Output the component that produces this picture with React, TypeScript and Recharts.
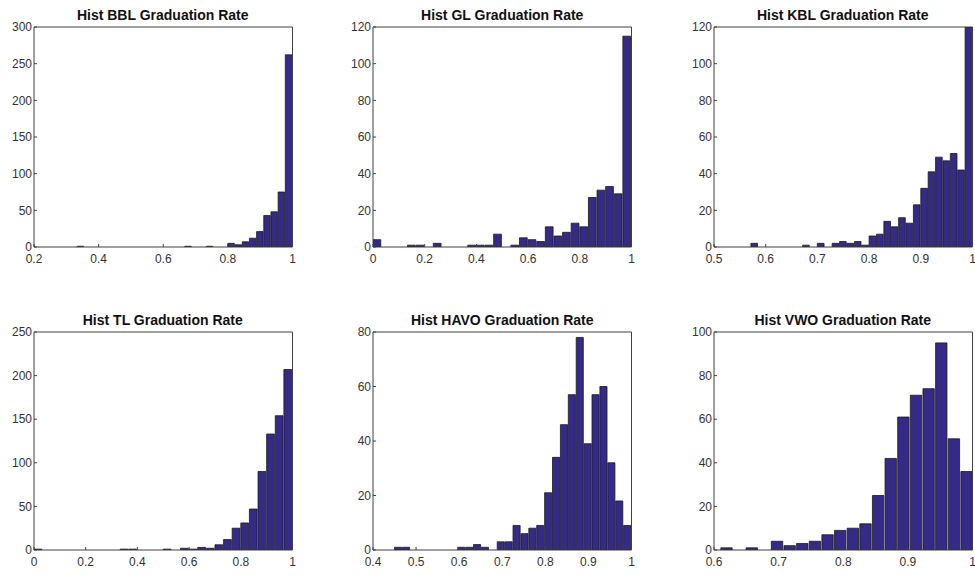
import React from 'react';
import { BarChart, Bar, XAxis, YAxis } from 'recharts';

// histogram counts per bin (30 bins, 20 for VWO), bin range = [min, max] of the data
const bblCounts = [1, 0, 0, 0, 0, 0, 0, 0, 0, 0, 0, 0, 0, 0, 0, 1, 0, 0, 1, 0, 0, 5, 3, 7, 12, 21, 43, 48, 75, 262];
const bblRange = [1 / 3, 1];
const bblXTicks = [0.2, 0.4, 0.6, 0.8, 1];
const bblYTicks = [0, 50, 100, 150, 200, 250, 300];

const glCounts = [4, 0, 0, 0, 1, 1, 0, 2, 0, 0, 0, 1, 1, 1, 7, 0, 1, 5, 4, 3, 11, 6, 8, 13, 11, 27, 31, 33, 29, 115];
const glRange = [0, 1];
const glXTicks = [0, 0.2, 0.4, 0.6, 0.8, 1];
const glYTicks = [0, 20, 40, 60, 80, 100, 120];

const kblCounts = [2, 0, 0, 0, 0, 0, 0, 1, 0, 2, 0, 2, 3, 2, 3, 1, 6, 7, 14, 11, 16, 13, 23, 32, 41, 49, 47, 51, 42, 120];
const kblRange = [4 / 7, 1];
const kblXTicks = [0.5, 0.6, 0.7, 0.8, 0.9, 1];
const kblYTicks = [0, 20, 40, 60, 80, 100, 120];

const tlCounts = [1, 0, 0, 0, 0, 0, 0, 0, 0, 0, 1, 1, 0, 0, 0, 1, 0, 2, 1, 3, 2, 6, 12, 25, 31, 47, 90, 133, 154, 207];
const tlRange = [0, 1];
const tlXTicks = [0, 0.2, 0.4, 0.6, 0.8, 1];
const tlYTicks = [0, 50, 100, 150, 200, 250];

const havoCounts = [1, 1, 0, 0, 0, 0, 0, 0, 1, 1, 2, 1, 0, 3, 3, 9, 6, 8, 9, 21, 34, 46, 57, 78, 39, 57, 60, 32, 18, 9];
const havoRange = [0.45, 1];
const havoXTicks = [0.4, 0.5, 0.6, 0.7, 0.8, 0.9, 1];
const havoYTicks = [0, 20, 40, 60, 80];

const vwoCounts = [1, 0, 1, 0, 4, 2, 3, 4, 7, 9, 10, 12, 25, 42, 61, 71, 74, 95, 51, 36];
const vwoRange = [0.609, 1];
const vwoXTicks = [0.6, 0.7, 0.8, 0.9, 1];
const vwoYTicks = [0, 20, 40, 60, 80, 100];

const FONT = '"Liberation Sans", Arial, Helvetica, sans-serif';
const BOX = '#404040';
const PLOT_W = 258.5;

interface PanelProps {
  title: string;
  counts: number[];
  range: number[];
  xTicks: number[];
  yTicks: number[];
  left: number;
  top: number;
  plotH: number;
}

const Panel: React.FC<PanelProps> = ({ title, counts, range, xTicks, yTicks, left, top, plotH }) => {
  const binW = (range[1] - range[0]) / counts.length;
  const data = counts.map((c, i) => ({ x: range[0] + (i + 0.5) * binW, count: c }));
  const xDomain = [xTicks[0], xTicks[xTicks.length - 1]];
  const yDomain = [yTicks[0], yTicks[yTicks.length - 1]];
  const barPx = (PLOT_W * binW) / (xDomain[1] - xDomain[0]);
  const tickStyle = { fill: '#333', fontSize: 12, fontFamily: FONT };
  const lineStyle = { stroke: BOX, strokeWidth: 1 };

  return (
    <>
      <div
        style={{
          position: 'absolute',
          left,
          top: top - 20,
          width: PLOT_W,
          textAlign: 'center',
          fontFamily: FONT,
          fontWeight: 'bold',
          fontSize: 14,
          lineHeight: '16px',
          color: '#111',
        }}
      >
        {title}
      </div>
      <div style={{ position: 'absolute', left: left - 30, top: top - 8 }}>
        <BarChart
          width={30 + PLOT_W + 8}
          height={8 + plotH + 24}
          data={data}
          margin={{ top: 7, right: 7, bottom: 0, left: 0 }}
        >
          <XAxis
            xAxisId="b"
            dataKey="x"
            type="number"
            domain={xDomain}
            ticks={xTicks}
            allowDataOverflow
            interval={0}
            height={24}
            tickSize={-3}
            tickMargin={10}
            tick={tickStyle}
            axisLine={lineStyle}
            tickLine={lineStyle}
            tickFormatter={(v) => String(v)}
          />
          {/* mirrored axes: closing box with inward ticks on top and right */}
          <XAxis
            xAxisId="t"
            orientation="top"
            type="number"
            domain={xDomain}
            ticks={xTicks}
            allowDataOverflow
            height={1}
            tickSize={-3}
            tick={false}
            axisLine={lineStyle}
            tickLine={lineStyle}
          />
          <YAxis
            yAxisId="l"
            type="number"
            domain={yDomain}
            ticks={yTicks}
            allowDataOverflow
            interval={0}
            width={30}
            tickSize={-3}
            tickMargin={5}
            tick={tickStyle}
            axisLine={lineStyle}
            tickLine={lineStyle}
          />
          <YAxis
            yAxisId="r"
            orientation="right"
            type="number"
            domain={yDomain}
            ticks={yTicks}
            allowDataOverflow
            width={1}
            tickSize={-3}
            tick={false}
            axisLine={lineStyle}
            tickLine={lineStyle}
          />
          <Bar
            xAxisId="b"
            yAxisId="l"
            dataKey="count"
            barSize={barPx}
            fill="#352a87"
            stroke="#1a1a1a"
            strokeWidth={0.8}
            isAnimationActive={false}
          />
        </BarChart>
      </div>
    </>
  );
};

const COLS = [33.5, 373, 713.5];
const ROWS = [27, 332];

export default function App() {
  return (
    <div style={{ position: 'absolute', left: 0, top: 0, width: 975, height: 575, background: '#fff' }}>
      <Panel title="Hist BBL Graduation Rate" counts={bblCounts} range={bblRange} xTicks={bblXTicks} yTicks={bblYTicks} left={COLS[0]} top={ROWS[0]} plotH={220} />
      <Panel title="Hist GL Graduation Rate" counts={glCounts} range={glRange} xTicks={glXTicks} yTicks={glYTicks} left={COLS[1]} top={ROWS[0]} plotH={220} />
      <Panel title="Hist KBL Graduation Rate" counts={kblCounts} range={kblRange} xTicks={kblXTicks} yTicks={kblYTicks} left={COLS[2]} top={ROWS[0]} plotH={220} />
      <Panel title="Hist TL Graduation Rate" counts={tlCounts} range={tlRange} xTicks={tlXTicks} yTicks={tlYTicks} left={COLS[0]} top={ROWS[1]} plotH={218} />
      <Panel title="Hist HAVO Graduation Rate" counts={havoCounts} range={havoRange} xTicks={havoXTicks} yTicks={havoYTicks} left={COLS[1]} top={ROWS[1]} plotH={218} />
      <Panel title="Hist VWO Graduation Rate" counts={vwoCounts} range={vwoRange} xTicks={vwoXTicks} yTicks={vwoYTicks} left={COLS[2]} top={ROWS[1]} plotH={218} />
    </div>
  );
}
